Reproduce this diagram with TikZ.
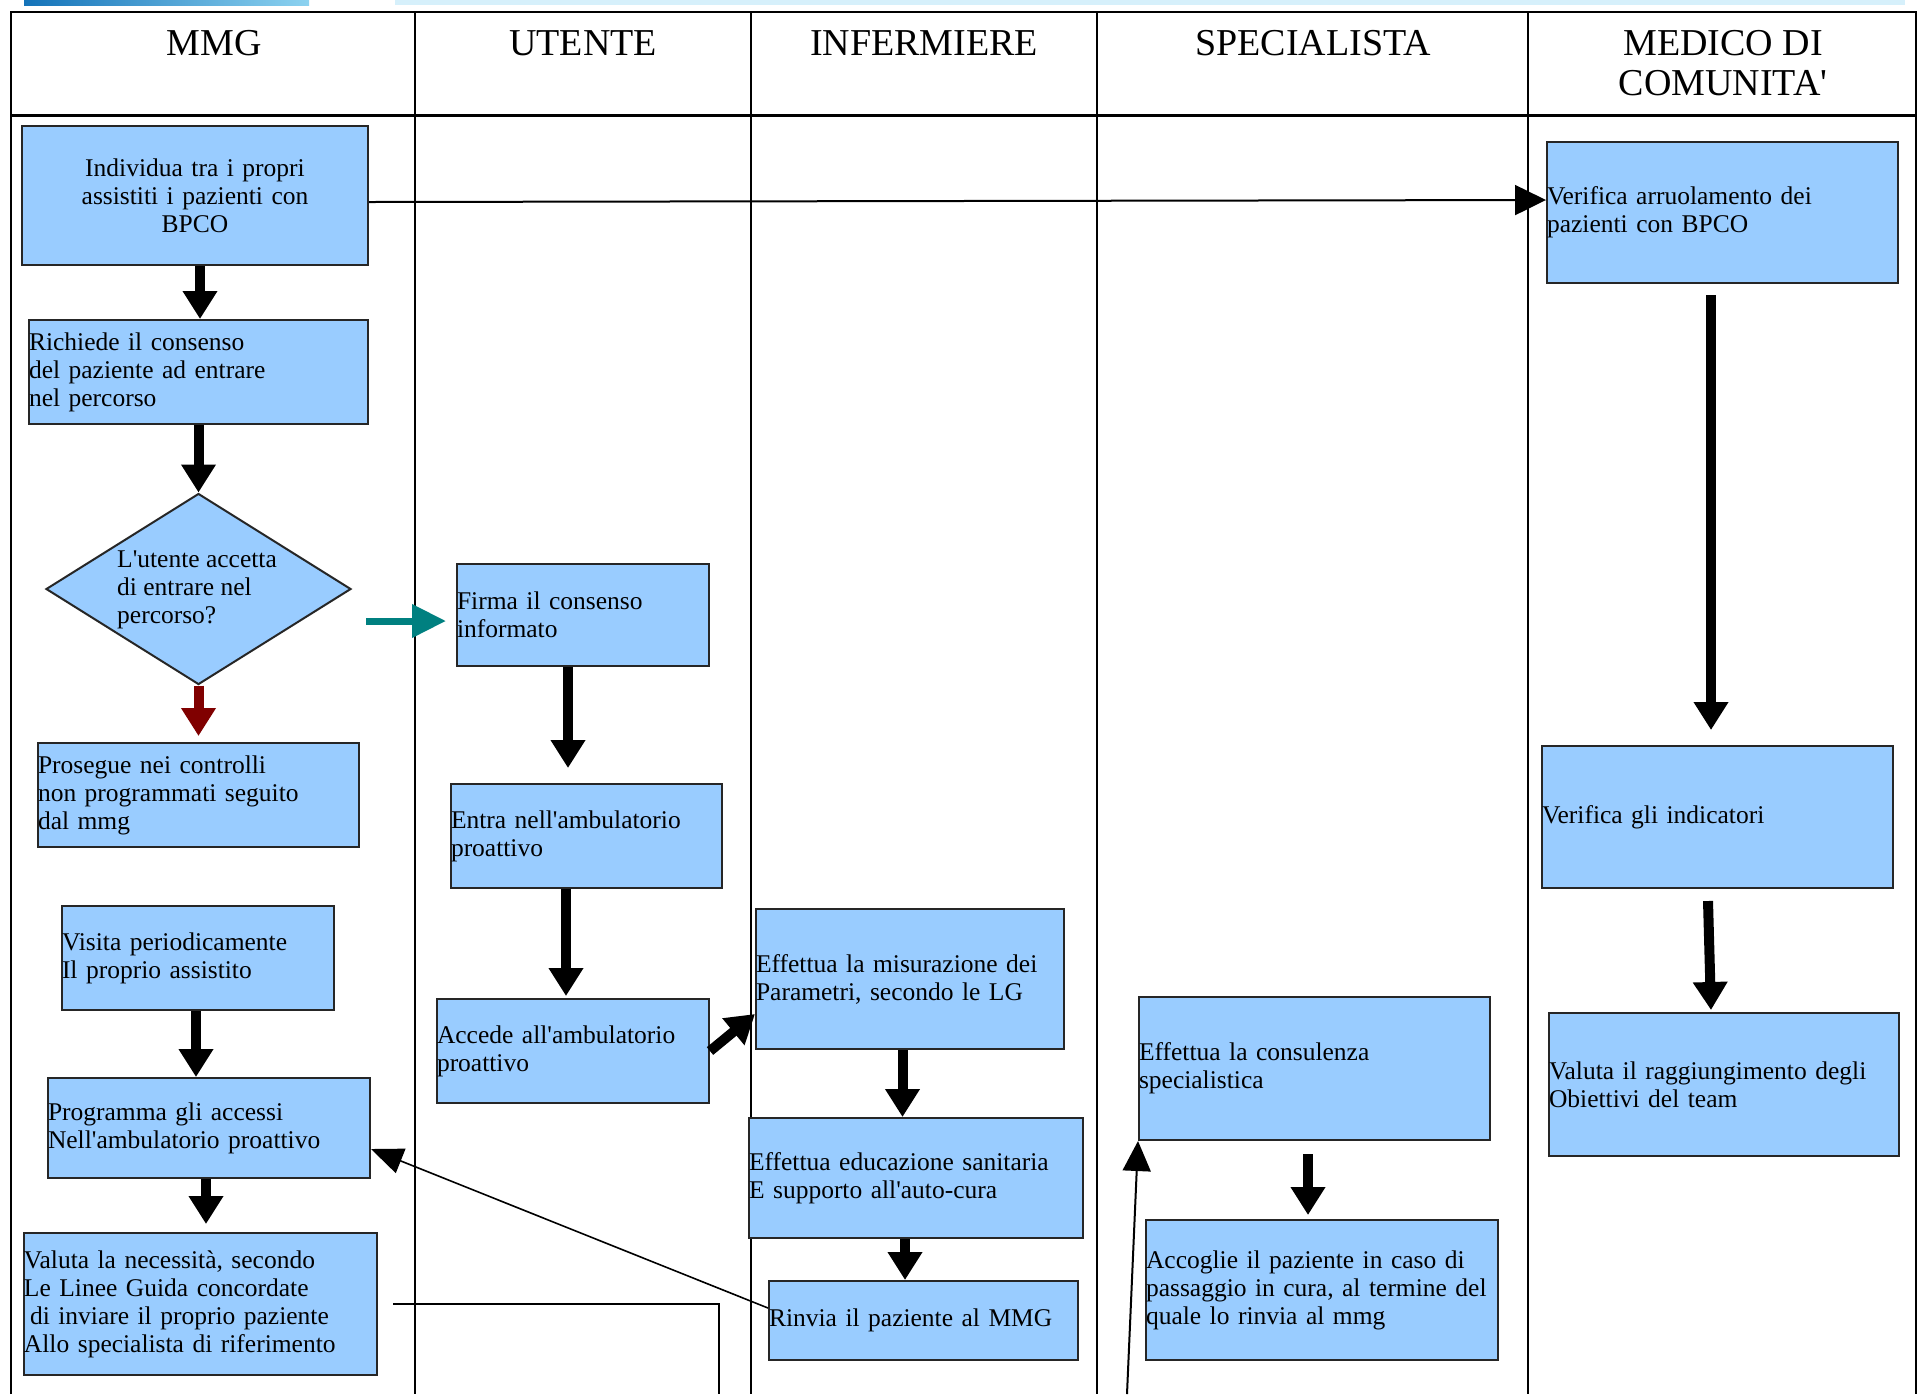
\documentclass[tikz,border=0pt]{standalone}
\usepackage{fontspec}
\setmainfont{Liberation Serif}
\usetikzlibrary{arrows.meta,shapes.geometric}
\definecolor{boxblue}{RGB}{153,204,255}
\definecolor{tealc}{RGB}{0,128,128}
\definecolor{redc}{RGB}{128,0,0}
\definecolor{bandA}{RGB}{20,115,185}
\definecolor{bandB}{RGB}{140,210,240}
\definecolor{stripc}{RGB}{214,240,251}
\newcommand\bxf{\fontsize{12.75}{14}\selectfont}
\newcommand\hdf{\fontsize{19}{20}\selectfont}
\newcommand\qq{\textquotesingle}
\begin{document}
\begin{tikzpicture}[x=0.5pt,y=-0.5pt,
  box/.style={draw=black!85, line width=1pt, fill=boxblue, inner xsep=0pt, inner ysep=0pt, font=\bxf, align=left},
  boxc/.style={box, align=center},
  thk/.style={line width=5pt, -{Triangle[length=14pt,width=16.5pt]}},
  thn/.style={line width=1pt, -{Triangle[length=15pt,width=14pt]}},
  hdr/.style={font=\hdf, align=center}
]
\useasboundingbox (0,0) rectangle (1920,1394);
\fill[white] (0,0) rectangle (1920,1394);
% banner
\shade[left color=bandA,right color=bandB] (24,0) rectangle (309,5);
\fill[stripc] (395,0) rectangle (1905,5);
% table
\draw[line width=1pt] (11,1394) -- (11,12) -- (1916,12) -- (1916,1394);
\draw[line width=1.5pt] (11,115) -- (1916,115);
\foreach \xx in {415,751,1097,1528} \draw[line width=1pt] (\xx,12) -- (\xx,1394);
% headers
\node[hdr, anchor=base] (hmmg) at (214,55) {MMG};
\node[hdr, anchor=base] (hute) at (583,55) {UTENTE};
\node[hdr, anchor=base] (hinf) at (924,55) {INFERMIERE};
\node[hdr, anchor=base] (hspe) at (1313,55) {SPECIALISTA};
\node[hdr] (hmed) at (1723,63) {MEDICO DI\\COMUNITA\qq};
% MMG
\node[boxc, text width=173pt, minimum height=69.5pt] (ind) at (195,195.5) {Individua tra i propri\\assistiti i pazienti con\\BPCO};
\node[box, text width=169.5pt, minimum height=52pt] (rich) at (198.5,372) {Richiede il consenso\\del paziente ad entrare\\nel percorso};
\node[diamond, draw=black!85, line width=1pt, fill=boxblue, minimum width=152.5pt, minimum height=95.5pt, inner sep=0pt] (diam) at (198.5,589) {};
\node[font=\bxf, align=left, inner sep=0pt] (dtxt) at (197,590) {L\qq utente accetta\\di entrare nel\\percorso?};
\node[box, text width=160.5pt, minimum height=52pt] (pros) at (198.5,795) {Prosegue nei controlli\\non programmati seguito\\dal mmg};
\node[box, text width=136pt, minimum height=52pt] (visita) at (198,958) {Visita periodicamente\\Il proprio assistito};
\node[box, text width=161pt, minimum height=50pt] (prog) at (209,1128) {Programma gli accessi\\Nell\qq ambulatorio proattivo};
\node[box, text width=176.5pt, minimum height=71pt] (valuta) at (200.5,1304) {Valuta la necessità, secondo\\Le Linee Guida concordate\\\hspace*{3pt}di inviare il proprio paziente\\Allo specialista di riferimento};
% UTENTE
\node[box, text width=126pt, minimum height=51pt] (firma) at (583,615) {Firma il consenso\\informato};
\node[box, text width=135.5pt, minimum height=52pt] (entra) at (586.5,836) {Entra nell\qq ambulatorio\\proattivo};
\node[box, text width=136pt, minimum height=52pt] (accede) at (573,1051) {Accede all\qq ambulatorio\\proattivo};
% INFERMIERE
\node[box, text width=154pt, minimum height=70pt] (misura) at (910,979) {Effettua la misurazione dei\\Parametri, secondo le LG};
\node[box, text width=167pt, minimum height=60pt] (educ) at (916,1178) {Effettua educazione sanitaria\\E supporto all\qq auto-cura};
\node[box, text width=154.5pt, minimum height=39.5pt] (rinvia) at (923.5,1320.5) {Rinvia il paziente al MMG};
% SPECIALISTA
\node[box, text width=175.5pt, minimum height=71.5pt] (consul) at (1314.5,1068.5) {Effettua la consulenza\\specialistica};
\node[box, text width=176pt, minimum height=70pt] (accoglie) at (1322,1290) {Accoglie il paziente in caso di\\passaggio in cura, al termine del\\quale lo rinvia al mmg};
% MEDICO DI COMUNITA'
\node[box, text width=175.5pt, minimum height=70.5pt] (verarr) at (1722.5,212.5) {Verifica arruolamento dei\\pazienti con BPCO};
\node[box, text width=175.5pt, minimum height=71pt] (verind) at (1717.5,817) {Verifica gli indicatori};
\node[box, text width=175pt, minimum height=71.5pt] (valrag) at (1724,1084.5) {Valuta il raggiungimento degli\\Obiettivi del team};
% thick arrows
\draw[thk] ([xshift=2.5pt]ind.south) -- ([xshift=0.75pt]rich.north);
\draw[thk] (rich.south) -- (diam.north);
\draw[thk, redc] (diam.south) -- ([yshift=3pt]pros.north);
\coordinate (tstart) at (366,621);
\draw[line width=3.5pt, tealc, -{Triangle[length=17pt,width=16pt]}] (tstart) -- ([xshift=-5pt,yshift=-3pt]firma.west);
\draw[thk] ([xshift=-7.5pt]firma.south) -- ([xshift=-9.25pt,yshift=7.5pt]entra.north);
\draw[thk] ([xshift=-10.25pt]entra.south) -- ([xshift=-3.5pt,yshift=1pt]accede.north);
\draw[thk] (accede.east) -- ([yshift=-17.5pt]misura.west);
\draw[thk] ([xshift=-3.75pt]misura.south) -- ([xshift=-6.75pt]educ.north);
\draw[thk] ([xshift=-5.5pt]educ.south) -- ([xshift=-9.25pt]rinvia.north);
\draw[thk] ([xshift=-1pt]visita.south) -- ([xshift=-6.5pt]prog.north);
\draw[thk] ([xshift=-1.5pt]prog.south) -- ([xshift=2.75pt,yshift=4pt]valuta.north);
\draw[thk] ([xshift=-5.75pt,yshift=-5.5pt]verarr.south) -- ([xshift=-3.25pt,yshift=7.5pt]verind.north);
\draw[thk] ([xshift=-4.75pt,yshift=-6pt]verind.south) -- ([xshift=-6.5pt,yshift=1pt]valrag.north);
\draw[thk] ([xshift=-3.25pt,yshift=-6.5pt]consul.south) -- ([xshift=-7pt,yshift=2pt]accoglie.north);
% thin connectors
\draw[line width=1pt, -{Triangle[length=15.5pt,width=15pt]}] ([yshift=-3.25pt]ind.east) -- ([yshift=6.25pt]verarr.west);
\draw[line width=0.8pt, -{Triangle[length=16pt,width=13pt]}] ([yshift=6.25pt]rinvia.west) -- ([yshift=-10.5pt]prog.east);
\coordinate (vend) at (719,1394);
\draw[line width=1pt] ([xshift=7.5pt]valuta.east) -| (vend);
\coordinate (sstart) at (1127,1394);
\draw[thn] (sstart) -- (consul.south west);
\end{tikzpicture}
\end{document}
